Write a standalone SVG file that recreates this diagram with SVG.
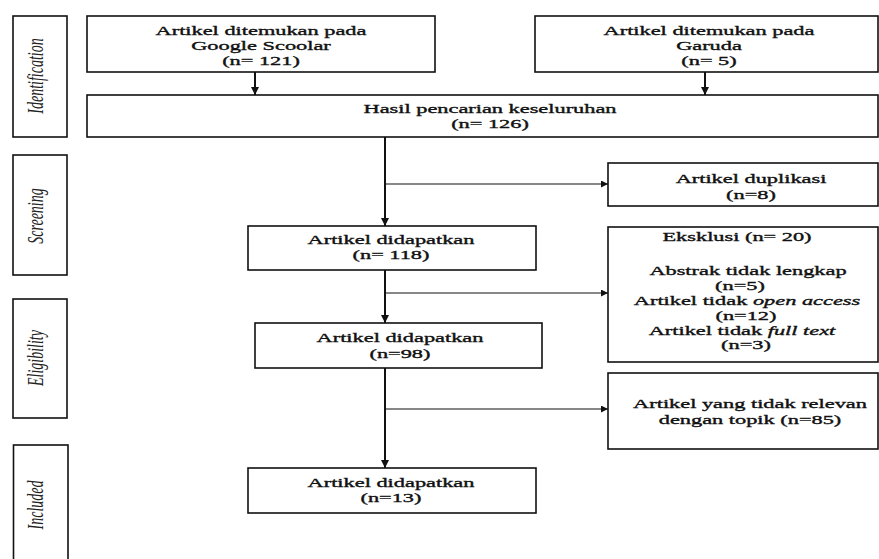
<svg xmlns="http://www.w3.org/2000/svg" width="879" height="559" viewBox="0 0 879 559">
<style>
.box{fill:#fff;stroke:#111;stroke-width:1.6}
.ph{fill:#fff;stroke:#111;stroke-width:1.6}
.t{font-family:"Liberation Serif","Times New Roman",serif;font-size:13px;fill:#111;stroke:#111;stroke-width:0.35;text-anchor:middle}
.pl{font-family:"Liberation Serif","Times New Roman",serif;font-size:14px;font-style:italic;fill:#222;text-anchor:middle}
.main{stroke:#111;stroke-width:2;fill:none}
.br{stroke:#111;stroke-width:1.1;fill:none}
</style>
<defs>
<marker id="ah" viewBox="0 0 10 10" refX="10" refY="5" markerWidth="8" markerHeight="8" markerUnits="userSpaceOnUse" orient="auto">
<path d="M0,0 L10,5 L0,10 Z" fill="#111"/>
</marker>
<marker id="ahs" viewBox="0 0 10 10" refX="10" refY="5" markerWidth="7" markerHeight="7" markerUnits="userSpaceOnUse" orient="auto">
<path d="M0,0 L10,5 L0,10 Z" fill="#111"/>
</marker>
</defs>
<rect width="879" height="559" fill="#fff"/>

<g id="phase-identification">
<rect class="ph" x="13" y="16" width="54" height="121"/>
<text class="pl" transform="translate(43,76) rotate(-90) scale(1,1.6)">Identification</text>
</g>
<g id="phase-screening">
<rect class="ph" x="13" y="155" width="54" height="120"/>
<text class="pl" transform="translate(43,216) rotate(-90) scale(1,1.6)">Screening</text>
</g>
<g id="phase-eligibility">
<rect class="ph" x="13" y="299" width="54" height="119"/>
<text class="pl" transform="translate(43,358) rotate(-90) scale(1,1.6)">Eligibility</text>
</g>
<g id="phase-included">
<rect class="ph" x="13.5" y="445" width="54.5" height="125"/>
<text class="pl" transform="translate(43,505) rotate(-90) scale(1,1.6)">Included</text>
</g>

<g id="google">
<rect class="box" x="87" y="16" width="348" height="56"/>
<text class="t" transform="translate(261,35) scale(1.72,1)">Artikel ditemukan pada</text>
<text class="t" transform="translate(261,50) scale(1.72,1)">Google Scoolar</text>
<text class="t" transform="translate(261,65) scale(1.72,1)">(n= 121)</text>
</g>
<g id="garuda">
<rect class="box" x="535" y="16" width="343" height="56"/>
<text class="t" transform="translate(709,35) scale(1.72,1)">Artikel ditemukan pada</text>
<text class="t" transform="translate(709,50) scale(1.72,1)">Garuda</text>
<text class="t" transform="translate(709,65) scale(1.72,1)">(n= 5)</text>
</g>
<g id="hasil">
<rect class="box" x="87" y="95" width="791" height="42"/>
<text class="t" transform="translate(490,113) scale(1.72,1)">Hasil pencarian keseluruhan</text>
<text class="t" transform="translate(490,128) scale(1.72,1)">(n= 126)</text>
</g>
<g id="duplikasi">
<rect class="box" x="608" y="163" width="270" height="43"/>
<text class="t" transform="translate(751,183) scale(1.72,1)">Artikel duplikasi</text>
<text class="t" transform="translate(751,199) scale(1.72,1)">(n=8)</text>
</g>
<g id="didapatkan-118">
<rect class="box" x="248" y="226" width="288" height="44"/>
<text class="t" transform="translate(391,244) scale(1.72,1)">Artikel didapatkan</text>
<text class="t" transform="translate(391,259) scale(1.72,1)">(n= 118)</text>
</g>
<g id="eksklusi">
<rect class="box" x="608" y="227" width="270" height="135"/>
<text class="t" transform="translate(737,241) scale(1.72,1)">Eksklusi (n= 20)</text>
<text class="t" transform="translate(748,275) scale(1.72,1)">Abstrak tidak lengkap</text>
<text class="t" transform="translate(740,290) scale(1.72,1)">(n=5)</text>
<text class="t" transform="translate(747,305) scale(1.72,1)">Artikel tidak <tspan font-style="italic">open access</tspan></text>
<text class="t" transform="translate(746,320) scale(1.72,1)">(n=12)</text>
<text class="t" transform="translate(742,335) scale(1.72,1)">Artikel tidak <tspan font-style="italic">full text</tspan></text>
<text class="t" transform="translate(746,349) scale(1.72,1)">(n=3)</text>
</g>
<g id="didapatkan-98">
<rect class="box" x="255" y="323" width="287" height="45"/>
<text class="t" transform="translate(400,342) scale(1.72,1)">Artikel didapatkan</text>
<text class="t" transform="translate(400,358) scale(1.72,1)">(n=98)</text>
</g>
<g id="relevan">
<rect class="box" x="608" y="373" width="270" height="76"/>
<text class="t" transform="translate(750,408) scale(1.72,1)">Artikel yang tidak relevan</text>
<text class="t" transform="translate(750,424) scale(1.72,1)">dengan topik (n=85)</text>
</g>
<g id="didapatkan-13">
<rect class="box" x="248" y="468" width="288" height="45"/>
<text class="t" transform="translate(391,487) scale(1.72,1)">Artikel didapatkan</text>
<text class="t" transform="translate(391,502) scale(1.72,1)">(n=13)</text>
</g>

<g id="connectors">
<line class="main" x1="255" y1="72" x2="255" y2="95" marker-end="url(#ah)"/>
<line class="main" x1="705" y1="72" x2="705" y2="95" marker-end="url(#ah)"/>
<line class="main" x1="385" y1="137" x2="385" y2="226" marker-end="url(#ah)"/>
<line class="br" x1="385" y1="184" x2="608" y2="184" marker-end="url(#ahs)"/>
<line class="main" x1="385" y1="270" x2="385" y2="323" marker-end="url(#ah)"/>
<line class="br" x1="385" y1="293" x2="608" y2="293" marker-end="url(#ahs)"/>
<line class="main" x1="385" y1="368" x2="385" y2="468" marker-end="url(#ah)"/>
<line class="br" x1="385" y1="409" x2="608" y2="409" marker-end="url(#ahs)"/>
</g>
</svg>
